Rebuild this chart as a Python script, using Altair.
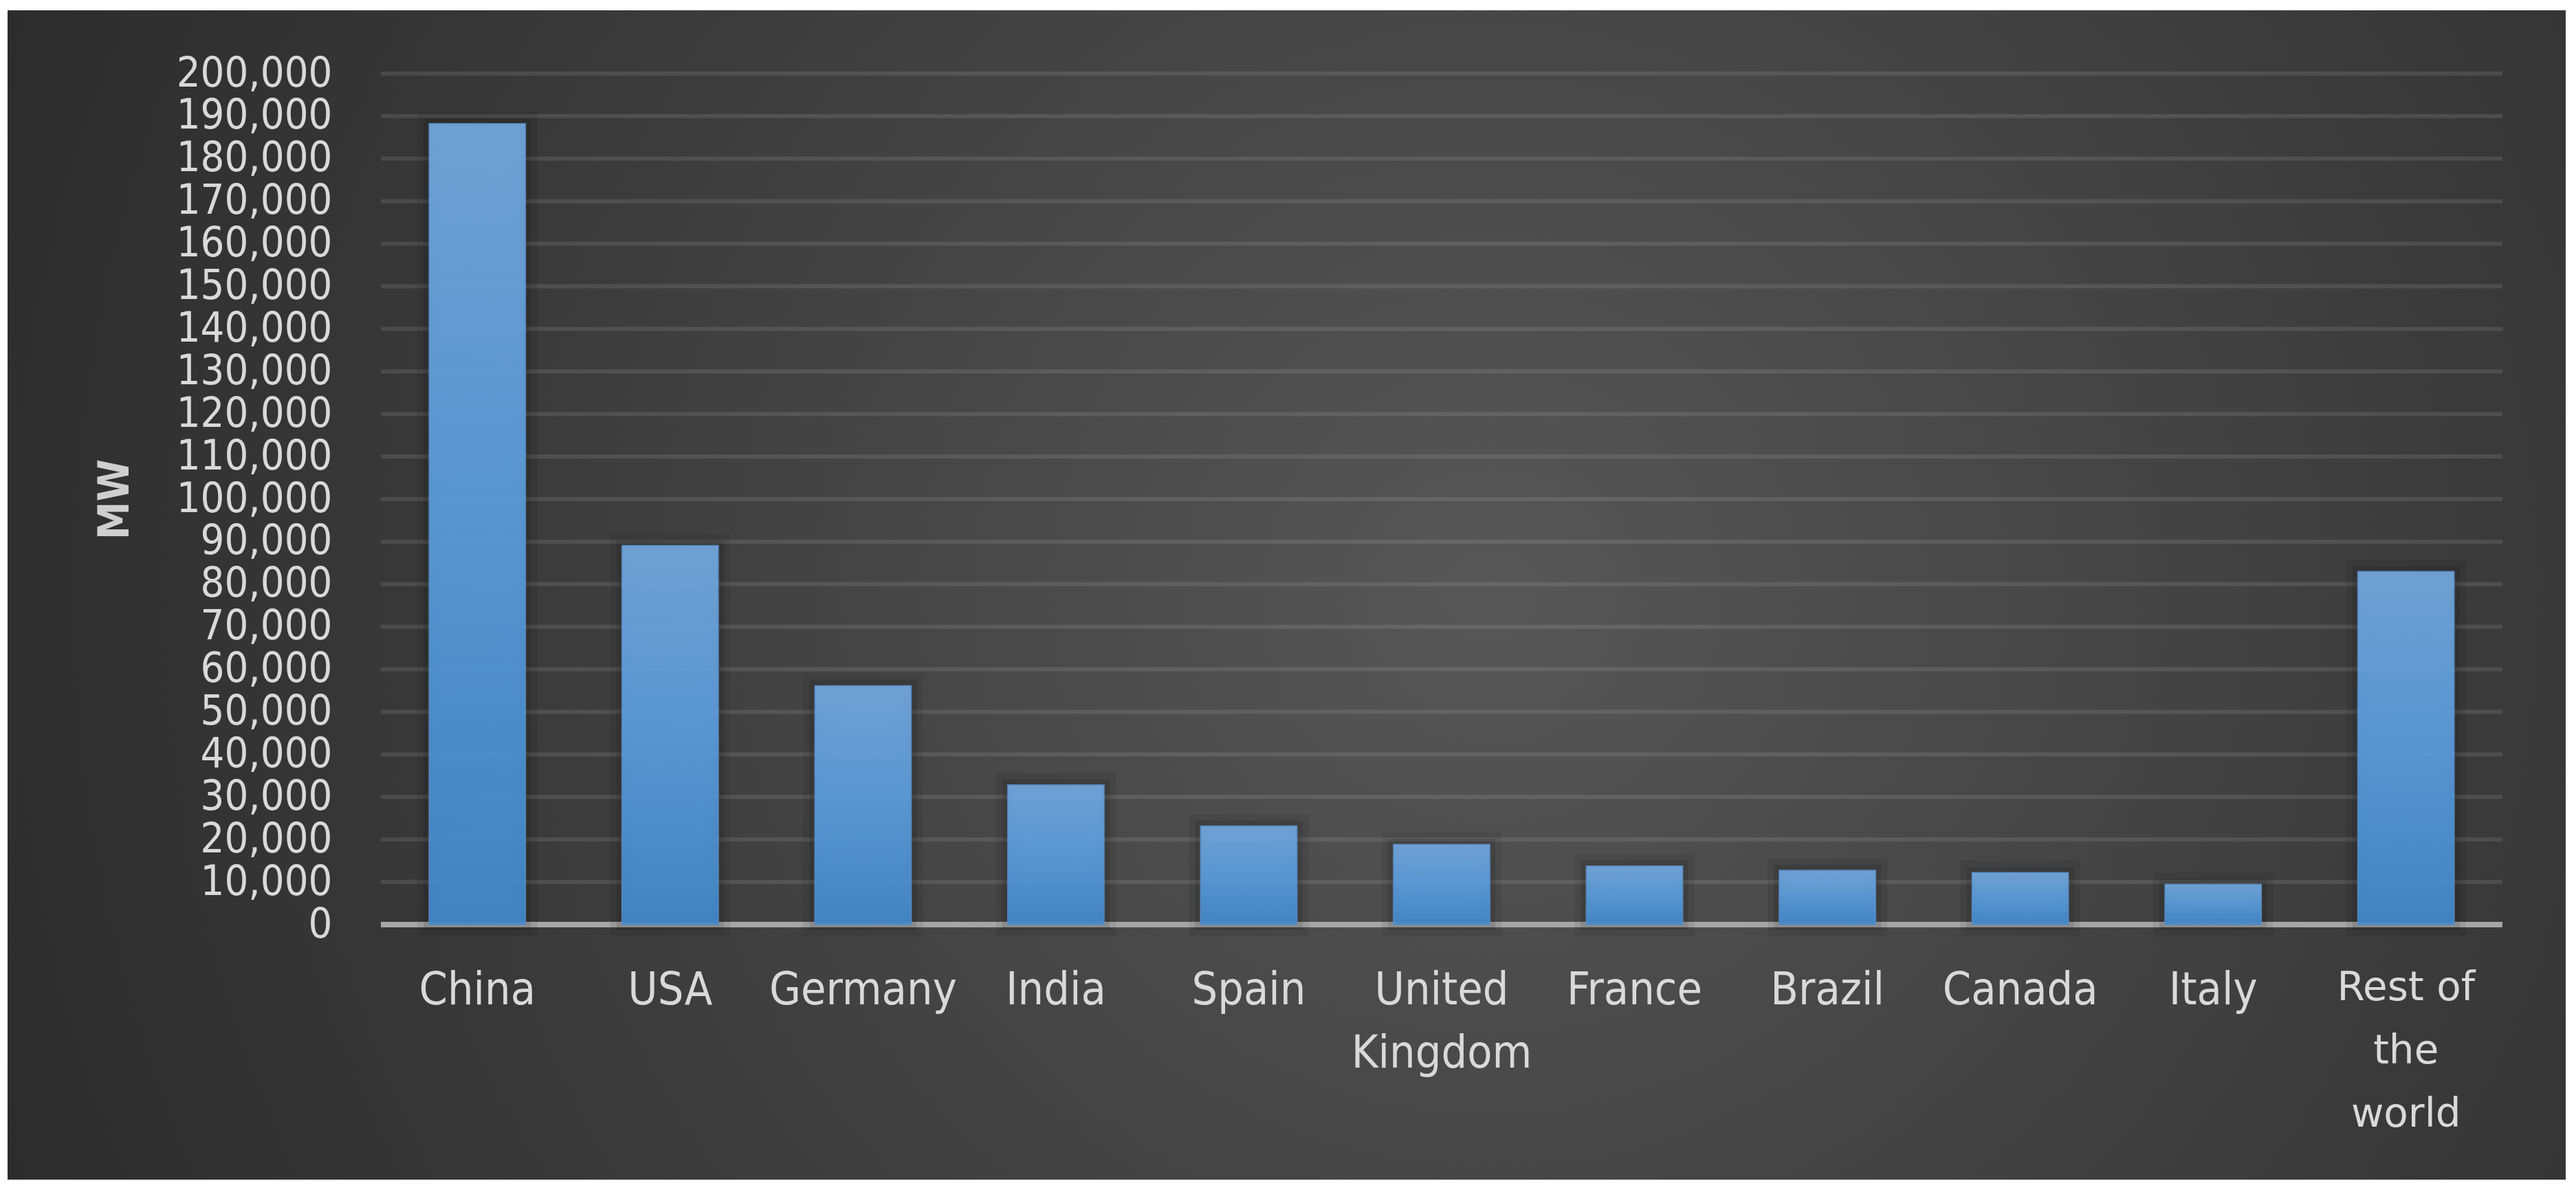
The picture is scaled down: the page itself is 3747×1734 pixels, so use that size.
import altair as alt
import pandas as pd

# ---- data ----
countries = ["China", "USA", "Germany", "India", "Spain", "United Kingdom",
             "France", "Brazil", "Canada", "Italy", "Rest of the world"]
capacity_mw = [188232, 89077, 56132, 32848, 23170, 18872,
               13759, 12763, 12239, 9479, 83010]
y_ticks = [0, 10000, 20000, 30000, 40000, 50000, 60000, 70000, 80000, 90000,
           100000, 110000, 120000, 130000, 140000, 150000, 160000, 170000,
           180000, 190000, 200000]
y_title = "MW"

df = pd.DataFrame({"country": countries, "mw": capacity_mw})
grid_df = pd.DataFrame({"mw": y_ticks[1:]})

W, H = 3086, 1238
COND = "DejaVu Sans Condensed, Liberation Sans Narrow, sans-serif"
WIDE = "DejaVu Sans, Verdana, sans-serif"
LBL = "#d9d9d9"

yscale = alt.Scale(domain=[0, 200000], nice=False, zero=True)
xscale = alt.Scale(paddingInner=0.5, paddingOuter=0.25)

x_axis = alt.Axis(
    title=None, ticks=False, tickSize=0, domain=False, grid=False,
    labelAngle=0, labelColor=LBL, labelLimit=2000,
    labelFontSize={"condition": {"test": "datum.value == 'Rest of the world'", "value": 58}, "value": 66},
    labelFont={"condition": {"test": "datum.value == 'Rest of the world'", "value": WIDE}, "value": COND},
    labelPadding=63, labelLineHeight=92, labelBaseline="top", labelOverlap=False,
    labelExpr="datum.label == 'United Kingdom' ? ['United', 'Kingdom'] : datum.label == 'Rest of the world' ? ['Rest of', 'the', 'world'] : datum.label",
    zindex=1,
)
y_axis = alt.Axis(
    values=y_ticks, format=",d", ticks=False, tickSize=0, domain=False, grid=False,
    labelColor=LBL, labelFont=COND, labelFontSize=61, labelPadding=71,
    labelOverlap=False, labelFlush=False, labelLimit=2000,
    title=y_title, titleColor="#cfcfcf", titleFont=COND, titleFontSize=62,
    titleFontWeight="bold", titleAngle=270, titleX=-387, titleY=619,
    titleAlign="center", titleBaseline="middle", zindex=1,
)

x_enc = alt.X("country:N", sort=countries, scale=xscale, axis=x_axis)
y_enc = alt.Y("mw:Q", scale=yscale, axis=y_axis)

bg = alt.Chart(alt.Data(values=[{"k": 1}])).mark_rect(
    fill=alt.RadialGradient(
        gradient="radial",
        stops=[alt.GradientStop(color="#575757", offset=0),
               alt.GradientStop(color="#3a3a3a", offset=0.55),
               alt.GradientStop(color="#262626", offset=1)],
        x1=0.58, y1=0.5, r1=0, x2=0.58, y2=0.5, r2=0.72,
    )
).encode(
    x=alt.value(-543), x2=alt.value(3178), y=alt.value(-92), y2=alt.value(1609)
)

grid = alt.Chart(grid_df).mark_rule(color="#ffffff", opacity=0.1, strokeWidth=6).encode(
    y=y_enc
)

baseline = alt.Chart(pd.DataFrame({"mw": [0]})).mark_rule(
    color="#a6a6a6", strokeWidth=8
).encode(y=y_enc)

shadow1 = alt.Chart(df).mark_bar(
    fillOpacity=0, stroke="#000000", strokeOpacity=0.07, strokeWidth=34
).encode(x=x_enc, y=y_enc)
shadow2 = alt.Chart(df).mark_bar(
    fillOpacity=0, stroke="#000000", strokeOpacity=0.1, strokeWidth=16
).encode(x=x_enc, y=y_enc)

bars = alt.Chart(df).mark_bar(
    fill=alt.LinearGradient(
        gradient="linear",
        stops=[alt.GradientStop(color="#73a8de", offset=0),
               alt.GradientStop(color="#5a9cdc", offset=0.5),
               alt.GradientStop(color="#4289cc", offset=1)],
        x1=0, x2=0, y1=0, y2=1,
    ),
    opacity=0.93, stroke="#5a8ec8", strokeWidth=1.5,
).encode(x=x_enc, y=y_enc)

chart = alt.layer(bg, grid, baseline, shadow1, shadow2, bars).properties(
    width=W, height=H,
    autosize=alt.AutoSizeParams(type="none"),
    padding={"left": 546, "top": 99, "right": 92, "bottom": 371},
    background="white",
).configure_view(stroke=None)

chart.save("out.html", embed_options={"renderer": "svg", "actions": False})
